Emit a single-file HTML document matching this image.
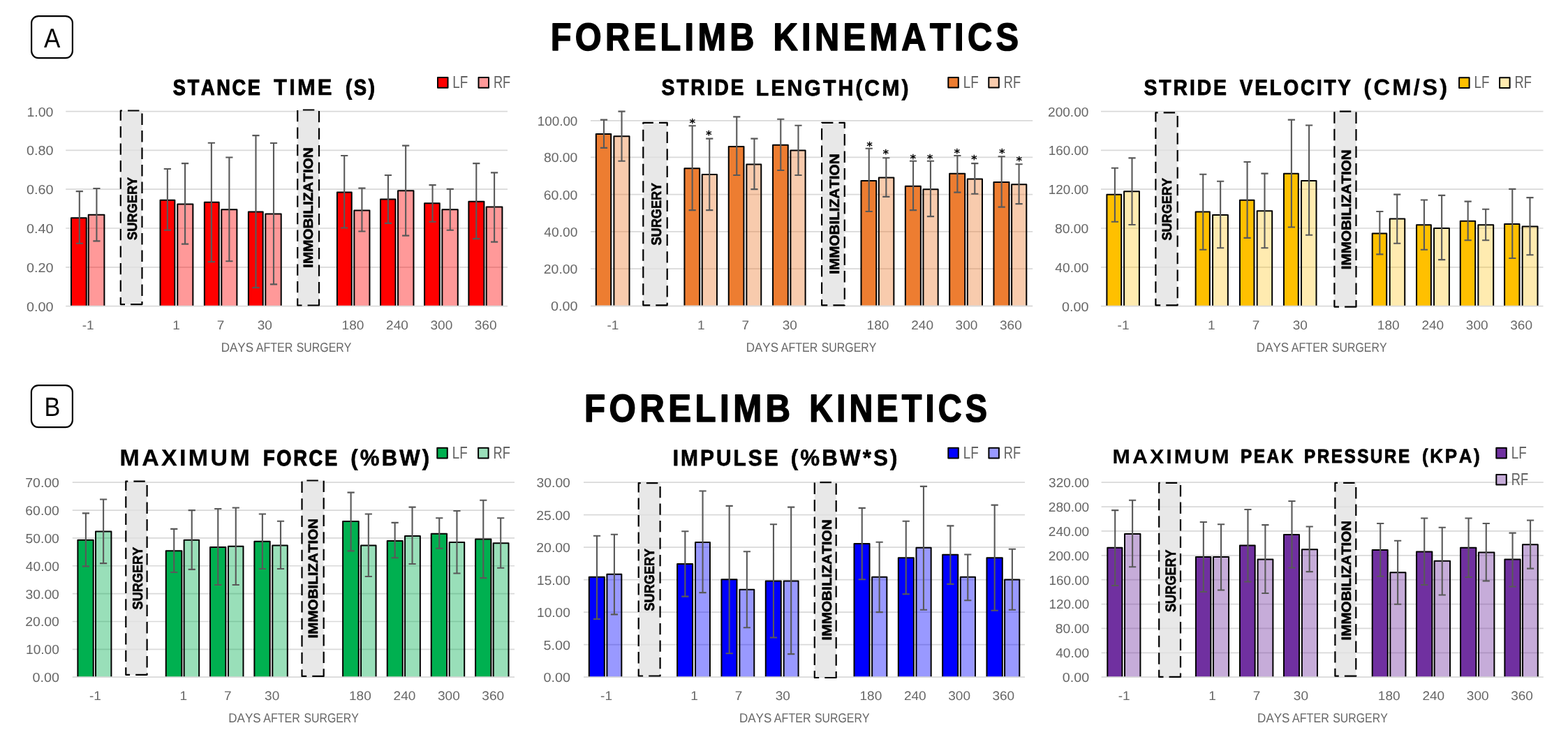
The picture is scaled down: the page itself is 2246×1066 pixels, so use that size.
<!DOCTYPE html>
<html lang="en"><head><meta charset="utf-8"><title>Forelimb kinematics and kinetics</title>
<style>
html,body{margin:0;padding:0;background:#fff}
body{width:2246px;height:1066px;overflow:hidden}
svg{display:block;font-family:"Liberation Sans",sans-serif}
text{white-space:pre;font-kerning:none;text-rendering:geometricPrecision}
</style></head><body>
<svg width="2246" height="1066" viewBox="0 0 2246 1066">
<rect width="2246" height="1066" fill="#fff"/>
<rect x="45.1" y="23.1" width="58.8" height="60" rx="10" fill="#fff" stroke="#000" stroke-width="2.2"/>
<text transform="translate(62.93 67.5) scale(0.9015 1)" font-size="38.81">A</text>
<rect x="44.9" y="552.1" width="59" height="60" rx="10" fill="#fff" stroke="#000" stroke-width="2.2"/>
<text transform="translate(63.59 596) scale(0.8980 1)" font-size="38.08">B</text>
<text transform="translate(788.75 72.3) scale(0.8793 1)" font-size="55.38" font-weight="bold" letter-spacing="6.09" stroke="#000" stroke-width="1.6" stroke-linejoin="round">FORELIMB</text>
<text transform="translate(1107.44 72.3) scale(0.8805 1)" font-size="55.38" font-weight="bold" letter-spacing="6.09" stroke="#000" stroke-width="1.6" stroke-linejoin="round">KINEMATICS</text>
<text transform="translate(836.91 604.3) scale(0.8900 1)" font-size="55.38" font-weight="bold" letter-spacing="6.09" stroke="#000" stroke-width="1.6" stroke-linejoin="round">FORELIMB</text>
<text transform="translate(1159.24 604.3) scale(0.8459 1)" font-size="55.38" font-weight="bold" letter-spacing="6.09" stroke="#000" stroke-width="1.6" stroke-linejoin="round">KINETICS</text>
<text transform="translate(247.82 135.81) scale(0.8594 1)" font-size="31.57" font-weight="bold" letter-spacing="3.16" stroke="#000" stroke-width="1.18" stroke-linejoin="round">STANCE</text>
<text transform="translate(392.04 136.1) scale(0.9591 1)" font-size="32.42" font-weight="bold" letter-spacing="3.24" stroke="#000" stroke-width="0.6" stroke-linejoin="round">TIME</text>
<text transform="translate(494.89 135.87) scale(0.8654 1)" font-size="31.75" font-weight="bold" letter-spacing="3.18" stroke="#000" stroke-width="1.05" stroke-linejoin="round">(S)</text>
<text transform="translate(947.42 136.41) scale(0.8894 1)" font-size="31.85" font-weight="bold" letter-spacing="3.19" stroke="#000" stroke-width="0.99" stroke-linejoin="round">STRIDE</text>
<text transform="translate(1082.82 136.54) scale(0.9384 1)" font-size="32.23" font-weight="bold" letter-spacing="3.22" stroke="#000" stroke-width="0.72" stroke-linejoin="round">LENGTH(CM)</text>
<text transform="translate(1638.58 135.76) scale(0.9045 1)" font-size="31.42" font-weight="bold" letter-spacing="3.14" stroke="#000" stroke-width="0.88" stroke-linejoin="round">STRIDE</text>
<text transform="translate(1775.74 135.72) scale(0.8921 1)" font-size="31.3" font-weight="bold" letter-spacing="3.13" stroke="#000" stroke-width="0.96" stroke-linejoin="round">VELOCITY</text>
<text transform="translate(1953.24 136.03) scale(1.0155 1)" font-size="32.21" font-weight="bold" letter-spacing="3.22" stroke="#000" stroke-width="0.34" stroke-linejoin="round">(CM/S)</text>
<text transform="translate(171.49 667.45) scale(1.0279 1)" font-size="33" font-weight="bold" letter-spacing="3.3" stroke="#000" stroke-width="0.3" stroke-linejoin="round">MAXIMUM</text>
<text transform="translate(376.88 667.01) scale(0.8597 1)" font-size="31.73" font-weight="bold" letter-spacing="3.17" stroke="#000" stroke-width="1.17" stroke-linejoin="round">FORCE</text>
<text transform="translate(502.34 667.29) scale(0.9583 1)" font-size="32.54" font-weight="bold" letter-spacing="3.25" stroke="#000" stroke-width="0.61" stroke-linejoin="round">(%BW)</text>
<text transform="translate(963.76 667.21) scale(0.9271 1)" font-size="32.29" font-weight="bold" letter-spacing="3.23" stroke="#000" stroke-width="0.78" stroke-linejoin="round">IMPULSE</text>
<text transform="translate(1132.73 667.3) scale(0.9624 1)" font-size="32.56" font-weight="bold" letter-spacing="3.26" stroke="#000" stroke-width="0.6" stroke-linejoin="round">(%BW*S)</text>
<text transform="translate(1593.57 663.5) scale(1.0583 1)" font-size="28.78" font-weight="bold" letter-spacing="2.88" stroke="#000" stroke-width="0.2" stroke-linejoin="round">MAXIMUM</text>
<text transform="translate(1776.95 663.16) scale(0.8826 1)" font-size="27.79" font-weight="bold" letter-spacing="2.78" stroke="#000" stroke-width="0.88" stroke-linejoin="round">PEAK</text>
<text transform="translate(1868.08 663.14) scale(0.8788 1)" font-size="27.72" font-weight="bold" letter-spacing="2.77" stroke="#000" stroke-width="0.93" stroke-linejoin="round">PRESSURE</text>
<text transform="translate(2037.01 663.27) scale(0.9271 1)" font-size="28.1" font-weight="bold" letter-spacing="2.81" stroke="#000" stroke-width="0.67" stroke-linejoin="round">(KPA)</text>
<g>
<path d="M94.2 159.6H727M94.2 215.4H727M94.2 271.2H727M94.2 327H727M94.2 382.8H727" stroke="#d9d9d9" stroke-width="1.7" fill="none"/>
<text transform="translate(38.41 166.5) scale(1.0398 1)" font-size="18.75" fill="#676767">1.00</text>
<text transform="translate(37.93 222.3) scale(1.0534 1)" font-size="18.75" fill="#676767">0.80</text>
<text transform="translate(37.93 278.1) scale(1.0534 1)" font-size="18.75" fill="#676767">0.60</text>
<text transform="translate(37.93 333.9) scale(1.0534 1)" font-size="18.75" fill="#676767">0.40</text>
<text transform="translate(37.93 389.7) scale(1.0534 1)" font-size="18.75" fill="#676767">0.20</text>
<text transform="translate(37.93 445.5) scale(1.0534 1)" font-size="18.75" fill="#676767">0.00</text>
<rect x="102.01" y="312.23" width="21.71" height="128.37" fill="#ff0000" stroke="#000" stroke-width="2.0" stroke-linejoin="round"/>
<rect x="126.71" y="307.72" width="22.71" height="132.88" fill="#ff0000" fill-opacity="0.4" stroke="#000" stroke-width="2.0" stroke-linejoin="round"/>
<rect x="229.54" y="286.67" width="20.81" height="153.93" fill="#ff0000" stroke="#000" stroke-width="2.0" stroke-linejoin="round"/>
<rect x="254.25" y="292.39" width="22.11" height="148.21" fill="#ff0000" fill-opacity="0.4" stroke="#000" stroke-width="2.0" stroke-linejoin="round"/>
<rect x="292.86" y="289.68" width="20.81" height="150.92" fill="#ff0000" stroke="#000" stroke-width="2.0" stroke-linejoin="round"/>
<rect x="317.27" y="300.2" width="22.11" height="140.4" fill="#ff0000" fill-opacity="0.4" stroke="#000" stroke-width="2.0" stroke-linejoin="round"/>
<rect x="355.88" y="303.51" width="20.81" height="137.09" fill="#ff0000" stroke="#000" stroke-width="2.0" stroke-linejoin="round"/>
<rect x="380.29" y="306.52" width="22.41" height="134.08" fill="#ff0000" fill-opacity="0.4" stroke="#000" stroke-width="2.0" stroke-linejoin="round"/>
<rect x="482.92" y="275.55" width="20.81" height="165.05" fill="#ff0000" stroke="#000" stroke-width="2.0" stroke-linejoin="round"/>
<rect x="507.33" y="301.41" width="22.11" height="139.19" fill="#ff0000" fill-opacity="0.4" stroke="#000" stroke-width="2.0" stroke-linejoin="round"/>
<rect x="545.04" y="285.47" width="21.41" height="155.13" fill="#ff0000" stroke="#000" stroke-width="2.0" stroke-linejoin="round"/>
<rect x="570.05" y="273.14" width="22.41" height="167.46" fill="#ff0000" fill-opacity="0.4" stroke="#000" stroke-width="2.0" stroke-linejoin="round"/>
<rect x="608.06" y="291.18" width="21.71" height="149.42" fill="#ff0000" stroke="#000" stroke-width="2.0" stroke-linejoin="round"/>
<rect x="633.37" y="300.2" width="22.41" height="140.4" fill="#ff0000" fill-opacity="0.4" stroke="#000" stroke-width="2.0" stroke-linejoin="round"/>
<rect x="671.38" y="288.78" width="22.01" height="151.82" fill="#ff0000" stroke="#000" stroke-width="2.0" stroke-linejoin="round"/>
<rect x="696.69" y="296.59" width="22.71" height="144.01" fill="#ff0000" fill-opacity="0.4" stroke="#000" stroke-width="2.0" stroke-linejoin="round"/>
<rect x="94.2" y="438.6" width="632.8" height="4" fill="#fff"/>
<path d="M94.2 438.6H727" stroke="#d9d9d9" stroke-width="1.8" fill="none"/>
<path d="M113.81 274.15V348.71M108.71 274.15H118.91M108.71 348.71H118.91M138.42 269.94V345.4M133.32 269.94H143.52M133.32 345.4H143.52M239.85 241.98V329.77M234.75 241.98H244.95M234.75 329.77H244.95M265.05 234.16V349.61M259.95 234.16H270.15M259.95 349.61H270.15M302.87 204.7V375.16M297.77 204.7H307.97M297.77 375.16H307.97M328.37 225.44V374.26M323.27 225.44H333.47M323.27 374.26H333.47M366.48 194.17V412.14M361.38 194.17H371.58M361.38 412.14H371.58M391.99 205V407.33M386.89 205H397.09M386.89 407.33H397.09M493.23 223.04V326.46M488.13 223.04H498.33M488.13 326.46H498.33M518.43 269.64V331.57M513.33 269.64H523.53M513.33 331.57H523.53M555.95 251V319.85M550.85 251H561.05M550.85 319.85H561.05M581.15 208.61V337.58M576.05 208.61H586.25M576.05 337.58H586.25M619.56 265.13V317.74M614.46 265.13H624.66M614.46 317.74H624.66M644.77 270.84V329.77M639.67 270.84H649.87M639.67 329.77H649.87M682.28 234.16V342.09M677.18 234.16H687.38M677.18 342.09H687.38M708.09 247.39V346.6M702.99 247.39H713.19M702.99 346.6H713.19" stroke="#595959" stroke-width="2.1" fill="none"/>
<rect x="172.8" y="158.5" width="30.7" height="277.6" fill="#e0e0e0" fill-opacity="0.75"/>
<path d="M203.5 436.1H172.8V158.5H203.5Z" fill="none" stroke="#000" stroke-width="2.2" stroke-linejoin="round" stroke-dasharray="16.4 8.1"/>
<rect x="426.2" y="157.5" width="30.8" height="280" fill="#e0e0e0" fill-opacity="0.75"/>
<path d="M457 437.5H426.2V157.5H457Z" fill="none" stroke="#000" stroke-width="2.2" stroke-linejoin="round" stroke-dasharray="16.4 8.1"/>
<text transform="translate(195.93 344) rotate(-90) scale(0.9511 1)" font-size="19.19" font-weight="bold" stroke="#000" stroke-width="0.6" stroke-linejoin="round">SURGERY</text>
<text transform="translate(448.41 383.83) rotate(-90) scale(1.0792 1)" font-size="19.19" font-weight="bold" stroke="#000" stroke-width="0.6" stroke-linejoin="round">IMMOBILIZATION</text>
<text transform="translate(117.7 472.2) scale(1.0500 1)" font-size="18.17" fill="#676767">-1</text>
<text transform="translate(247.13 472.2) scale(1.0500 1)" font-size="18.17" fill="#676767">1</text>
<text transform="translate(310.67 472.2) scale(1.0500 1)" font-size="18.17" fill="#676767">7</text>
<text transform="translate(368.66 472.2) scale(1.0500 1)" font-size="18.17" fill="#676767">30</text>
<text transform="translate(489.55 472.2) scale(1.0500 1)" font-size="18.17" fill="#676767">180</text>
<text transform="translate(553.08 472.2) scale(1.0500 1)" font-size="18.17" fill="#676767">240</text>
<text transform="translate(616.47 472.2) scale(1.0500 1)" font-size="18.17" fill="#676767">300</text>
<text transform="translate(679.75 472.2) scale(1.0500 1)" font-size="18.17" fill="#676767">360</text>
<text transform="translate(316.7 504.1) scale(0.9119 1)" font-size="18.68" fill="#676767">DAYS</text>
<text transform="translate(366.67 504.1) scale(0.8604 1)" font-size="18.68" fill="#676767">AFTER</text>
<text transform="translate(424.78 504.1) scale(0.8506 1)" font-size="18.68" fill="#676767">SURGERY</text>
</g>
<g>
<path d="M846 172.8H1479.2M846 225.4H1479.2M846 278.65H1479.2M846 331.9H1479.2M846 385.15H1479.2" stroke="#d9d9d9" stroke-width="1.7" fill="none"/>
<text transform="translate(769.77 179.7) scale(1.0038 1)" font-size="18.75" fill="#676767">100.00</text>
<text transform="translate(778.96 232.3) scale(1.0314 1)" font-size="18.75" fill="#676767">80.00</text>
<text transform="translate(778.81 285.55) scale(1.0346 1)" font-size="18.75" fill="#676767">60.00</text>
<text transform="translate(779.36 338.8) scale(1.0228 1)" font-size="18.75" fill="#676767">40.00</text>
<text transform="translate(778.82 392.05) scale(1.0343 1)" font-size="18.75" fill="#676767">20.00</text>
<text transform="translate(788.93 445.3) scale(1.0534 1)" font-size="18.75" fill="#676767">0.00</text>
<rect x="853.81" y="191.94" width="21.41" height="248.56" fill="#ed7d31" stroke="#000" stroke-width="2.0" stroke-linejoin="round"/>
<rect x="879.41" y="195.24" width="22.11" height="245.26" fill="#ed7d31" fill-opacity="0.4" stroke="#000" stroke-width="2.0" stroke-linejoin="round"/>
<rect x="980.44" y="241.23" width="21.71" height="199.27" fill="#ed7d31" stroke="#000" stroke-width="2.0" stroke-linejoin="round"/>
<rect x="1005.75" y="249.94" width="21.21" height="190.56" fill="#ed7d31" fill-opacity="0.4" stroke="#000" stroke-width="2.0" stroke-linejoin="round"/>
<rect x="1043.76" y="209.97" width="21.71" height="230.53" fill="#ed7d31" stroke="#000" stroke-width="2.0" stroke-linejoin="round"/>
<rect x="1069.37" y="235.52" width="20.91" height="204.98" fill="#ed7d31" fill-opacity="0.4" stroke="#000" stroke-width="2.0" stroke-linejoin="round"/>
<rect x="1107.08" y="207.87" width="21.71" height="232.63" fill="#ed7d31" stroke="#000" stroke-width="2.0" stroke-linejoin="round"/>
<rect x="1132.39" y="215.38" width="21.21" height="225.12" fill="#ed7d31" fill-opacity="0.4" stroke="#000" stroke-width="2.0" stroke-linejoin="round"/>
<rect x="1233.52" y="258.96" width="21.71" height="181.54" fill="#ed7d31" stroke="#000" stroke-width="2.0" stroke-linejoin="round"/>
<rect x="1258.83" y="254.45" width="21.51" height="186.05" fill="#ed7d31" fill-opacity="0.4" stroke="#000" stroke-width="2.0" stroke-linejoin="round"/>
<rect x="1296.84" y="266.78" width="22.01" height="173.72" fill="#ed7d31" stroke="#000" stroke-width="2.0" stroke-linejoin="round"/>
<rect x="1322.45" y="271.29" width="21.21" height="169.21" fill="#ed7d31" fill-opacity="0.4" stroke="#000" stroke-width="2.0" stroke-linejoin="round"/>
<rect x="1360.16" y="248.74" width="22.01" height="191.76" fill="#ed7d31" stroke="#000" stroke-width="2.0" stroke-linejoin="round"/>
<rect x="1385.77" y="256.56" width="21.21" height="183.94" fill="#ed7d31" fill-opacity="0.4" stroke="#000" stroke-width="2.0" stroke-linejoin="round"/>
<rect x="1423.48" y="261.07" width="22.01" height="179.43" fill="#ed7d31" stroke="#000" stroke-width="2.0" stroke-linejoin="round"/>
<rect x="1449.09" y="264.37" width="21.21" height="176.13" fill="#ed7d31" fill-opacity="0.4" stroke="#000" stroke-width="2.0" stroke-linejoin="round"/>
<rect x="846" y="438.5" width="633.2" height="4" fill="#fff"/>
<path d="M846 438.5H1479.2" stroke="#d9d9d9" stroke-width="1.8" fill="none"/>
<path d="M865.01 171.6V211.87M859.91 171.6H870.11M859.91 211.87H870.11M890.52 159.58V230.81M885.42 159.58H895.62M885.42 230.81H895.62M991.65 180.31V301.14M986.55 180.31H996.75M986.55 301.14H996.75M1016.25 198.65V301.14M1011.15 198.65H1021.35M1011.15 301.14H1021.35M1055.27 167.39V250.95M1050.17 167.39H1060.37M1050.17 250.95H1060.37M1080.47 198.65V271.09M1075.37 198.65H1085.57M1075.37 271.09H1085.57M1118.28 170.7V244.03M1113.18 170.7H1123.38M1113.18 244.03H1123.38M1143.49 179.71V250.95M1138.39 179.71H1148.59M1138.39 250.95H1148.59M1244.73 212.78V302.95M1239.63 212.78H1249.83M1239.63 302.95H1249.83M1269.34 226.3V281.91M1264.24 226.3H1274.44M1264.24 281.91H1274.44M1308.05 230.81V301.14M1302.95 230.81H1313.15M1302.95 301.14H1313.15M1332.95 230.81V310.16M1327.85 230.81H1338.05M1327.85 310.16H1338.05M1371.37 222.99V275.59M1366.27 222.99H1376.47M1366.27 275.59H1376.47M1396.27 234.12V277.7M1391.17 234.12H1401.37M1391.17 277.7H1401.37M1434.68 224.2V296.63M1429.58 224.2H1439.78M1429.58 296.63H1439.78M1459.59 235.32V292.12M1454.49 235.32H1464.69M1454.49 292.12H1464.69" stroke="#595959" stroke-width="2.1" fill="none"/>
<rect x="921.3" y="175.9" width="34.4" height="261.4" fill="#e0e0e0" fill-opacity="0.75"/>
<path d="M955.7 437.3H921.3V175.9H955.7Z" fill="none" stroke="#000" stroke-width="2.2" stroke-linejoin="round" stroke-dasharray="16.4 8.1"/>
<rect x="1177.1" y="175.9" width="32.7" height="261.4" fill="#e0e0e0" fill-opacity="0.75"/>
<path d="M1209.8 437.3H1177.1V175.9H1209.8Z" fill="none" stroke="#000" stroke-width="2.2" stroke-linejoin="round" stroke-dasharray="16.4 8.1"/>
<text transform="translate(946.53 351.51) rotate(-90) scale(0.9040 1)" font-size="20.07" font-weight="bold" stroke="#000" stroke-width="0.6" stroke-linejoin="round">SURGERY</text>
<text transform="translate(1202.32 392.84) rotate(-90) scale(1.0553 1)" font-size="19.63" font-weight="bold" stroke="#000" stroke-width="0.6" stroke-linejoin="round">IMMOBILIZATION</text>
<text x="991.9" y="182.06" font-size="16.5" font-weight="bold" font-family="DejaVu Sans,Liberation Sans,sans-serif" text-anchor="middle">*</text>
<text x="1015.4" y="198.86" font-size="16.5" font-weight="bold" font-family="DejaVu Sans,Liberation Sans,sans-serif" text-anchor="middle">*</text>
<text x="1245.5" y="215.26" font-size="16.5" font-weight="bold" font-family="DejaVu Sans,Liberation Sans,sans-serif" text-anchor="middle">*</text>
<text x="1268.9" y="226.26" font-size="16.5" font-weight="bold" font-family="DejaVu Sans,Liberation Sans,sans-serif" text-anchor="middle">*</text>
<text x="1307.7" y="232.86" font-size="16.5" font-weight="bold" font-family="DejaVu Sans,Liberation Sans,sans-serif" text-anchor="middle">*</text>
<text x="1332" y="232.86" font-size="16.5" font-weight="bold" font-family="DejaVu Sans,Liberation Sans,sans-serif" text-anchor="middle">*</text>
<text x="1370.8" y="225.06" font-size="16.5" font-weight="bold" font-family="DejaVu Sans,Liberation Sans,sans-serif" text-anchor="middle">*</text>
<text x="1395.3" y="234.06" font-size="16.5" font-weight="bold" font-family="DejaVu Sans,Liberation Sans,sans-serif" text-anchor="middle">*</text>
<text x="1435.3" y="225.26" font-size="16.5" font-weight="bold" font-family="DejaVu Sans,Liberation Sans,sans-serif" text-anchor="middle">*</text>
<text x="1459.7" y="236.06" font-size="16.5" font-weight="bold" font-family="DejaVu Sans,Liberation Sans,sans-serif" text-anchor="middle">*</text>
<text transform="translate(869.52 472.1) scale(1.0500 1)" font-size="18.17" fill="#676767">-1</text>
<text transform="translate(999.03 472.1) scale(1.0500 1)" font-size="18.17" fill="#676767">1</text>
<text transform="translate(1062.61 472.1) scale(1.0500 1)" font-size="18.17" fill="#676767">7</text>
<text transform="translate(1120.64 472.1) scale(1.0500 1)" font-size="18.17" fill="#676767">30</text>
<text transform="translate(1241.61 472.1) scale(1.0500 1)" font-size="18.17" fill="#676767">180</text>
<text transform="translate(1305.18 472.1) scale(1.0500 1)" font-size="18.17" fill="#676767">240</text>
<text transform="translate(1368.61 472.1) scale(1.0500 1)" font-size="18.17" fill="#676767">300</text>
<text transform="translate(1431.93 472.1) scale(1.0500 1)" font-size="18.17" fill="#676767">360</text>
<text transform="translate(1068.7 504) scale(0.9119 1)" font-size="18.68" fill="#676767">DAYS</text>
<text transform="translate(1118.67 504) scale(0.8604 1)" font-size="18.68" fill="#676767">AFTER</text>
<text transform="translate(1176.78 504) scale(0.8506 1)" font-size="18.68" fill="#676767">SURGERY</text>
</g>
<g>
<path d="M1577 159.6H2210.5M1577 215.4H2210.5M1577 271.2H2210.5M1577 327H2210.5M1577 382.8H2210.5" stroke="#d9d9d9" stroke-width="1.7" fill="none"/>
<text transform="translate(1501.04 166.5) scale(1.0166 1)" font-size="18.75" fill="#676767">200.00</text>
<text transform="translate(1501.77 222.3) scale(1.0038 1)" font-size="18.75" fill="#676767">160.00</text>
<text transform="translate(1501.77 278.1) scale(1.0038 1)" font-size="18.75" fill="#676767">120.00</text>
<text transform="translate(1510.96 333.9) scale(1.0314 1)" font-size="18.75" fill="#676767">80.00</text>
<text transform="translate(1511.36 389.7) scale(1.0228 1)" font-size="18.75" fill="#676767">40.00</text>
<text transform="translate(1520.93 445.5) scale(1.0534 1)" font-size="18.75" fill="#676767">0.00</text>
<rect x="1585.4" y="278.86" width="20.81" height="161.74" fill="#ffc000" stroke="#000" stroke-width="2.0" stroke-linejoin="round"/>
<rect x="1610.11" y="274.35" width="21.81" height="166.25" fill="#ffc000" fill-opacity="0.31" stroke="#000" stroke-width="2.0" stroke-linejoin="round"/>
<rect x="1712.64" y="303.51" width="20.21" height="137.09" fill="#ffc000" stroke="#000" stroke-width="2.0" stroke-linejoin="round"/>
<rect x="1737.05" y="308.02" width="21.81" height="132.58" fill="#ffc000" fill-opacity="0.31" stroke="#000" stroke-width="2.0" stroke-linejoin="round"/>
<rect x="1775.96" y="286.67" width="20.51" height="153.93" fill="#ffc000" stroke="#000" stroke-width="2.0" stroke-linejoin="round"/>
<rect x="1800.67" y="302.31" width="21.51" height="138.29" fill="#ffc000" fill-opacity="0.31" stroke="#000" stroke-width="2.0" stroke-linejoin="round"/>
<rect x="1838.98" y="248.79" width="20.81" height="191.81" fill="#ffc000" stroke="#000" stroke-width="2.0" stroke-linejoin="round"/>
<rect x="1863.99" y="259.01" width="21.51" height="181.59" fill="#ffc000" fill-opacity="0.31" stroke="#000" stroke-width="2.0" stroke-linejoin="round"/>
<rect x="1965.72" y="334.48" width="20.51" height="106.12" fill="#ffc000" stroke="#000" stroke-width="2.0" stroke-linejoin="round"/>
<rect x="1990.73" y="313.43" width="21.51" height="127.17" fill="#ffc000" fill-opacity="0.31" stroke="#000" stroke-width="2.0" stroke-linejoin="round"/>
<rect x="2029.04" y="322.15" width="20.81" height="118.45" fill="#ffc000" stroke="#000" stroke-width="2.0" stroke-linejoin="round"/>
<rect x="2054.05" y="326.96" width="21.81" height="113.64" fill="#ffc000" fill-opacity="0.31" stroke="#000" stroke-width="2.0" stroke-linejoin="round"/>
<rect x="2091.76" y="316.74" width="21.41" height="123.86" fill="#ffc000" stroke="#000" stroke-width="2.0" stroke-linejoin="round"/>
<rect x="2117.37" y="322.15" width="21.81" height="118.45" fill="#ffc000" fill-opacity="0.31" stroke="#000" stroke-width="2.0" stroke-linejoin="round"/>
<rect x="2155.08" y="320.95" width="21.41" height="119.65" fill="#ffc000" stroke="#000" stroke-width="2.0" stroke-linejoin="round"/>
<rect x="2180.69" y="324.55" width="21.81" height="116.05" fill="#ffc000" fill-opacity="0.31" stroke="#000" stroke-width="2.0" stroke-linejoin="round"/>
<rect x="1577" y="438.6" width="633.5" height="4" fill="#fff"/>
<path d="M1577 438.6H2210.5" stroke="#d9d9d9" stroke-width="1.8" fill="none"/>
<path d="M1596.91 240.78V317.74M1591.81 240.78H1602.01M1591.81 317.74H1602.01M1621.52 226.34V321.95M1616.42 226.34H1626.62M1616.42 321.95H1626.62M1723.25 249.79V357.73M1718.15 249.79H1728.35M1718.15 357.73H1728.35M1748.15 259.72V355.32M1743.05 259.72H1753.25M1743.05 355.32H1753.25M1786.56 232.06V340.89M1781.46 232.06H1791.66M1781.46 340.89H1791.66M1811.47 248.59V355.32M1806.37 248.59H1816.57M1806.37 355.32H1816.57M1849.88 171.63V325.56M1844.78 171.63H1854.98M1844.78 325.56H1854.98M1875.09 179.44V336.68M1869.99 179.44H1880.19M1869.99 336.68H1880.19M1976.33 303.01V364.34M1971.23 303.01H1981.43M1971.23 364.34H1981.43M2001.23 278.66V348.71M1996.13 278.66H2006.33M1996.13 348.71H2006.33M2039.94 286.47V357.73M2034.84 286.47H2045.04M2034.84 357.73H2045.04M2065.15 279.86V372.16M2060.05 279.86H2070.25M2060.05 372.16H2070.25M2102.66 288.58V344.2M2097.56 288.58H2107.76M2097.56 344.2H2107.76M2128.17 299.7V344.2M2123.07 299.7H2133.27M2123.07 344.2H2133.27M2166.28 270.84V370.05M2161.18 270.84H2171.38M2161.18 370.05H2171.38M2191.49 283.17V365.24M2186.39 283.17H2196.59M2186.39 365.24H2196.59" stroke="#595959" stroke-width="2.1" fill="none"/>
<rect x="1655.4" y="161.4" width="31.3" height="275.9" fill="#e0e0e0" fill-opacity="0.75"/>
<path d="M1686.7 437.3H1655.4V161.4H1686.7Z" fill="none" stroke="#000" stroke-width="2.2" stroke-linejoin="round" stroke-dasharray="16.4 8.1"/>
<rect x="1911.4" y="159.7" width="31.1" height="279.9" fill="#e0e0e0" fill-opacity="0.75"/>
<path d="M1942.5 439.6H1911.4V159.7H1942.5Z" fill="none" stroke="#000" stroke-width="2.2" stroke-linejoin="round" stroke-dasharray="16.4 8.1"/>
<text transform="translate(1678.43 344.6) rotate(-90) scale(0.9448 1)" font-size="19.19" font-weight="bold" stroke="#000" stroke-width="0.6" stroke-linejoin="round">SURGERY</text>
<text transform="translate(1935.41 386.23) rotate(-90) scale(1.0754 1)" font-size="19.19" font-weight="bold" stroke="#000" stroke-width="0.6" stroke-linejoin="round">IMMOBILIZATION</text>
<text transform="translate(1600.54 472.2) scale(1.0500 1)" font-size="18.17" fill="#676767">-1</text>
<text transform="translate(1730.11 472.2) scale(1.0500 1)" font-size="18.17" fill="#676767">1</text>
<text transform="translate(1793.71 472.2) scale(1.0500 1)" font-size="18.17" fill="#676767">7</text>
<text transform="translate(1851.77 472.2) scale(1.0500 1)" font-size="18.17" fill="#676767">30</text>
<text transform="translate(1972.81 472.2) scale(1.0500 1)" font-size="18.17" fill="#676767">180</text>
<text transform="translate(2036.4 472.2) scale(1.0500 1)" font-size="18.17" fill="#676767">240</text>
<text transform="translate(2099.87 472.2) scale(1.0500 1)" font-size="18.17" fill="#676767">300</text>
<text transform="translate(2163.22 472.2) scale(1.0500 1)" font-size="18.17" fill="#676767">360</text>
<text transform="translate(1799.85 504.1) scale(0.9119 1)" font-size="18.68" fill="#676767">DAYS</text>
<text transform="translate(1849.82 504.1) scale(0.8604 1)" font-size="18.68" fill="#676767">AFTER</text>
<text transform="translate(1907.93 504.1) scale(0.8506 1)" font-size="18.68" fill="#676767">SURGERY</text>
</g>
<g>
<path d="M103.8 691.2H737M103.8 731.06H737M103.8 770.91H737M103.8 810.77H737M103.8 850.63H737M103.8 890.49H737M103.8 930.34H737" stroke="#d9d9d9" stroke-width="1.7" fill="none"/>
<text transform="translate(36.31 698.1) scale(1.0348 1)" font-size="18.75" fill="#676767">70.00</text>
<text transform="translate(36.31 737.96) scale(1.0346 1)" font-size="18.75" fill="#676767">60.00</text>
<text transform="translate(36.53 777.81) scale(1.0300 1)" font-size="18.75" fill="#676767">50.00</text>
<text transform="translate(36.86 817.67) scale(1.0228 1)" font-size="18.75" fill="#676767">40.00</text>
<text transform="translate(36.57 857.53) scale(1.0291 1)" font-size="18.75" fill="#676767">30.00</text>
<text transform="translate(36.32 897.39) scale(1.0343 1)" font-size="18.75" fill="#676767">20.00</text>
<text transform="translate(37.04 937.24) scale(1.0187 1)" font-size="18.75" fill="#676767">10.00</text>
<text transform="translate(46.43 977.1) scale(1.0534 1)" font-size="18.75" fill="#676767">0.00</text>
<rect x="111.41" y="773.69" width="22.31" height="198.51" fill="#00b050" stroke="#000" stroke-width="2.0" stroke-linejoin="round"/>
<rect x="137.01" y="761.38" width="22.41" height="210.82" fill="#00b050" fill-opacity="0.4" stroke="#000" stroke-width="2.0" stroke-linejoin="round"/>
<rect x="237.74" y="789.31" width="22.61" height="182.89" fill="#00b050" stroke="#000" stroke-width="2.0" stroke-linejoin="round"/>
<rect x="263.65" y="773.69" width="21.51" height="198.51" fill="#00b050" fill-opacity="0.4" stroke="#000" stroke-width="2.0" stroke-linejoin="round"/>
<rect x="301.06" y="783.9" width="22.31" height="188.3" fill="#00b050" stroke="#000" stroke-width="2.0" stroke-linejoin="round"/>
<rect x="326.97" y="782.7" width="21.51" height="189.5" fill="#00b050" fill-opacity="0.4" stroke="#000" stroke-width="2.0" stroke-linejoin="round"/>
<rect x="364.38" y="775.79" width="22.31" height="196.41" fill="#00b050" stroke="#000" stroke-width="2.0" stroke-linejoin="round"/>
<rect x="390.29" y="781.5" width="21.51" height="190.7" fill="#00b050" fill-opacity="0.4" stroke="#000" stroke-width="2.0" stroke-linejoin="round"/>
<rect x="491.12" y="746.96" width="22.61" height="225.24" fill="#00b050" stroke="#000" stroke-width="2.0" stroke-linejoin="round"/>
<rect x="517.03" y="781.5" width="21.51" height="190.7" fill="#00b050" fill-opacity="0.4" stroke="#000" stroke-width="2.0" stroke-linejoin="round"/>
<rect x="554.74" y="774.89" width="22.01" height="197.31" fill="#00b050" stroke="#000" stroke-width="2.0" stroke-linejoin="round"/>
<rect x="580.05" y="767.98" width="21.81" height="204.22" fill="#00b050" fill-opacity="0.4" stroke="#000" stroke-width="2.0" stroke-linejoin="round"/>
<rect x="617.76" y="764.68" width="22.31" height="207.52" fill="#00b050" stroke="#000" stroke-width="2.0" stroke-linejoin="round"/>
<rect x="643.67" y="776.99" width="21.51" height="195.21" fill="#00b050" fill-opacity="0.4" stroke="#000" stroke-width="2.0" stroke-linejoin="round"/>
<rect x="681.08" y="772.49" width="22.31" height="199.71" fill="#00b050" stroke="#000" stroke-width="2.0" stroke-linejoin="round"/>
<rect x="706.69" y="778.19" width="21.81" height="194.01" fill="#00b050" fill-opacity="0.4" stroke="#000" stroke-width="2.0" stroke-linejoin="round"/>
<rect x="103.8" y="970.2" width="633.2" height="4" fill="#fff"/>
<path d="M103.8 970.2H737" stroke="#d9d9d9" stroke-width="1.8" fill="none"/>
<path d="M122.91 735.35V811.33M117.81 735.35H128.01M117.81 811.33H128.01M148.12 715.53V807.12M143.02 715.53H153.22M143.02 807.12H153.22M249.25 757.87V820.04M244.15 757.87H254.35M244.15 820.04H254.35M274.75 731.14V815.83M269.65 731.14H279.85M269.65 815.83H279.85M312.27 729.04V838.06M307.17 729.04H317.37M307.17 838.06H317.37M337.77 727.54V838.06M332.67 727.54H342.87M332.67 838.06H342.87M375.88 736.55V814.93M370.78 736.55H380.98M370.78 814.93H380.98M401.99 746.76V814.93M396.89 746.76H407.09M396.89 814.93H407.09M502.63 705.62V789.41M497.53 705.62H507.73M497.53 789.41H507.73M527.83 736.55V826.05M522.73 736.55H532.93M522.73 826.05H532.93M565.65 748.86V799.32M560.55 748.86H570.75M560.55 799.32H570.75M590.55 726.64V808.03M585.45 726.64H595.65M585.45 808.03H595.65M629.26 742.26V785.8M624.16 742.26H634.36M624.16 785.8H634.36M654.47 732.04V821.54M649.37 732.04H659.57M649.37 821.54H659.57M692.28 716.73V828.15M687.18 716.73H697.38M687.18 828.15H697.38M717.19 742.26V813.73M712.09 742.26H722.29M712.09 813.73H722.29" stroke="#595959" stroke-width="2.1" fill="none"/>
<rect x="180.3" y="689.7" width="30.3" height="277.1" fill="#e0e0e0" fill-opacity="0.75"/>
<path d="M210.6 966.8H180.3V689.7H210.6Z" fill="none" stroke="#000" stroke-width="2.2" stroke-linejoin="round" stroke-dasharray="16.4 8.1"/>
<rect x="432.5" y="688.5" width="31.2" height="280.4" fill="#e0e0e0" fill-opacity="0.75"/>
<path d="M463.7 968.9H432.5V688.5H463.7Z" fill="none" stroke="#000" stroke-width="2.2" stroke-linejoin="round" stroke-dasharray="16.4 8.1"/>
<text transform="translate(203.53 873.41) rotate(-90) scale(0.9040 1)" font-size="20.07" font-weight="bold" stroke="#000" stroke-width="0.6" stroke-linejoin="round">SURGERY</text>
<text transform="translate(455.41 914.43) rotate(-90) scale(1.0735 1)" font-size="19.19" font-weight="bold" stroke="#000" stroke-width="0.6" stroke-linejoin="round">IMMOBILIZATION</text>
<text transform="translate(127.92 1003.2) scale(1.0500 1)" font-size="18.17" fill="#676767">-1</text>
<text transform="translate(257.43 1003.2) scale(1.0500 1)" font-size="18.17" fill="#676767">1</text>
<text transform="translate(321.01 1003.2) scale(1.0500 1)" font-size="18.17" fill="#676767">7</text>
<text transform="translate(379.04 1003.2) scale(1.0500 1)" font-size="18.17" fill="#676767">30</text>
<text transform="translate(500.01 1003.2) scale(1.0500 1)" font-size="18.17" fill="#676767">180</text>
<text transform="translate(563.58 1003.2) scale(1.0500 1)" font-size="18.17" fill="#676767">240</text>
<text transform="translate(627.01 1003.2) scale(1.0500 1)" font-size="18.17" fill="#676767">300</text>
<text transform="translate(690.33 1003.2) scale(1.0500 1)" font-size="18.17" fill="#676767">360</text>
<text transform="translate(327.3 1035) scale(0.9119 1)" font-size="18.68" fill="#676767">DAYS</text>
<text transform="translate(377.27 1035) scale(0.8604 1)" font-size="18.68" fill="#676767">AFTER</text>
<text transform="translate(435.38 1035) scale(0.8506 1)" font-size="18.68" fill="#676767">SURGERY</text>
</g>
<g>
<path d="M836 691.2H1468M836 737.7H1468M836 784.2H1468M836 830.7H1468M836 877.2H1468M836 923.7H1468" stroke="#d9d9d9" stroke-width="1.7" fill="none"/>
<text transform="translate(768.57 698.1) scale(1.0291 1)" font-size="18.75" fill="#676767">30.00</text>
<text transform="translate(768.32 744.6) scale(1.0343 1)" font-size="18.75" fill="#676767">25.00</text>
<text transform="translate(768.32 791.1) scale(1.0343 1)" font-size="18.75" fill="#676767">20.00</text>
<text transform="translate(769.04 837.6) scale(1.0187 1)" font-size="18.75" fill="#676767">15.00</text>
<text transform="translate(769.04 884.1) scale(1.0187 1)" font-size="18.75" fill="#676767">10.00</text>
<text transform="translate(778.41 930.6) scale(1.0540 1)" font-size="18.75" fill="#676767">5.00</text>
<text transform="translate(778.43 977.1) scale(1.0534 1)" font-size="18.75" fill="#676767">0.00</text>
<rect x="843.81" y="826.85" width="22.01" height="145.35" fill="#0000ff" stroke="#000" stroke-width="2.0" stroke-linejoin="round"/>
<rect x="869.41" y="822.64" width="20.91" height="149.56" fill="#0000ff" fill-opacity="0.4" stroke="#000" stroke-width="2.0" stroke-linejoin="round"/>
<rect x="970.14" y="807.93" width="22.01" height="164.27" fill="#0000ff" stroke="#000" stroke-width="2.0" stroke-linejoin="round"/>
<rect x="996.05" y="776.99" width="20.91" height="195.21" fill="#0000ff" fill-opacity="0.4" stroke="#000" stroke-width="2.0" stroke-linejoin="round"/>
<rect x="1033.46" y="830.15" width="22.01" height="142.05" fill="#0000ff" stroke="#000" stroke-width="2.0" stroke-linejoin="round"/>
<rect x="1059.37" y="844.87" width="20.91" height="127.33" fill="#0000ff" fill-opacity="0.4" stroke="#000" stroke-width="2.0" stroke-linejoin="round"/>
<rect x="1096.78" y="832.55" width="22.01" height="139.65" fill="#0000ff" stroke="#000" stroke-width="2.0" stroke-linejoin="round"/>
<rect x="1122.69" y="832.55" width="20.91" height="139.65" fill="#0000ff" fill-opacity="0.4" stroke="#000" stroke-width="2.0" stroke-linejoin="round"/>
<rect x="1223.52" y="779.09" width="22.01" height="193.11" fill="#0000ff" stroke="#000" stroke-width="2.0" stroke-linejoin="round"/>
<rect x="1249.13" y="826.85" width="21.21" height="145.35" fill="#0000ff" fill-opacity="0.4" stroke="#000" stroke-width="2.0" stroke-linejoin="round"/>
<rect x="1286.84" y="799.22" width="22.01" height="172.98" fill="#0000ff" stroke="#000" stroke-width="2.0" stroke-linejoin="round"/>
<rect x="1312.45" y="784.8" width="21.21" height="187.4" fill="#0000ff" fill-opacity="0.4" stroke="#000" stroke-width="2.0" stroke-linejoin="round"/>
<rect x="1350.16" y="794.71" width="22.01" height="177.49" fill="#0000ff" stroke="#000" stroke-width="2.0" stroke-linejoin="round"/>
<rect x="1375.77" y="826.85" width="21.21" height="145.35" fill="#0000ff" fill-opacity="0.4" stroke="#000" stroke-width="2.0" stroke-linejoin="round"/>
<rect x="1413.48" y="799.22" width="22.31" height="172.98" fill="#0000ff" stroke="#000" stroke-width="2.0" stroke-linejoin="round"/>
<rect x="1439.09" y="830.45" width="21.21" height="141.75" fill="#0000ff" fill-opacity="0.4" stroke="#000" stroke-width="2.0" stroke-linejoin="round"/>
<rect x="836" y="970.2" width="632" height="4" fill="#fff"/>
<path d="M836 970.2H1468" stroke="#d9d9d9" stroke-width="1.8" fill="none"/>
<path d="M855.01 767.78V887.01M849.91 767.78H860.11M849.91 887.01H860.11M879.92 765.68V880.4M874.82 765.68H885.02M874.82 880.4H885.02M981.35 761.18V854.58M976.25 761.18H986.45M976.25 854.58H986.45M1006.55 703.51V849.17M1001.45 703.51H1011.65M1001.45 849.17H1011.65M1044.67 724.84V936.26M1039.57 724.84H1049.77M1039.57 936.26H1049.77M1069.87 790.31V899.32M1064.77 790.31H1074.97M1064.77 899.32H1074.97M1107.98 751.26V913.44M1102.88 751.26H1113.08M1102.88 913.44H1113.08M1133.19 726.64V937.16M1128.09 726.64H1138.29M1128.09 937.16H1138.29M1234.73 727.84V830.25M1229.63 727.84H1239.83M1229.63 830.25H1239.83M1259.64 776.79V877.1M1254.54 776.79H1264.74M1254.54 877.1H1264.74M1297.75 746.76V851.27M1292.65 746.76H1302.85M1292.65 851.27H1302.85M1322.95 696.91V873.8M1317.85 696.91H1328.05M1317.85 873.8H1328.05M1361.37 753.37V836.86M1356.27 753.37H1366.47M1356.27 836.86H1366.47M1386.27 794.51V860.28M1381.17 794.51H1391.37M1381.17 860.28H1391.37M1424.68 723.64V874.7M1419.58 723.64H1429.78M1419.58 874.7H1429.78M1449.89 786.7V873.8M1444.79 786.7H1454.99M1444.79 873.8H1454.99" stroke="#595959" stroke-width="2.1" fill="none"/>
<rect x="914.7" y="692.1" width="30.9" height="276.4" fill="#e0e0e0" fill-opacity="0.75"/>
<path d="M945.6 968.5H914.7V692.1H945.6Z" fill="none" stroke="#000" stroke-width="2.2" stroke-linejoin="round" stroke-dasharray="16.4 8.1"/>
<rect x="1166.8" y="691.1" width="30.9" height="279.9" fill="#e0e0e0" fill-opacity="0.75"/>
<path d="M1197.7 971H1166.8V691.1H1197.7Z" fill="none" stroke="#000" stroke-width="2.2" stroke-linejoin="round" stroke-dasharray="16.4 8.1"/>
<text transform="translate(937.43 875.51) rotate(-90) scale(0.9040 1)" font-size="20.07" font-weight="bold" stroke="#000" stroke-width="0.6" stroke-linejoin="round">SURGERY</text>
<text transform="translate(1190.52 917.44) rotate(-90) scale(1.0830 1)" font-size="19.19" font-weight="bold" stroke="#000" stroke-width="0.6" stroke-linejoin="round">IMMOBILIZATION</text>
<text transform="translate(860.06 1003.2) scale(1.0500 1)" font-size="18.17" fill="#676767">-1</text>
<text transform="translate(989.33 1003.2) scale(1.0500 1)" font-size="18.17" fill="#676767">1</text>
<text transform="translate(1052.79 1003.2) scale(1.0500 1)" font-size="18.17" fill="#676767">7</text>
<text transform="translate(1110.7 1003.2) scale(1.0500 1)" font-size="18.17" fill="#676767">30</text>
<text transform="translate(1231.43 1003.2) scale(1.0500 1)" font-size="18.17" fill="#676767">180</text>
<text transform="translate(1294.88 1003.2) scale(1.0500 1)" font-size="18.17" fill="#676767">240</text>
<text transform="translate(1358.19 1003.2) scale(1.0500 1)" font-size="18.17" fill="#676767">300</text>
<text transform="translate(1421.39 1003.2) scale(1.0500 1)" font-size="18.17" fill="#676767">360</text>
<text transform="translate(1058.9 1035) scale(0.9119 1)" font-size="18.68" fill="#676767">DAYS</text>
<text transform="translate(1108.87 1035) scale(0.8604 1)" font-size="18.68" fill="#676767">AFTER</text>
<text transform="translate(1166.98 1035) scale(0.8506 1)" font-size="18.68" fill="#676767">SURGERY</text>
</g>
<g>
<path d="M1577.6 691.2H2210.8M1577.6 726.08H2210.8M1577.6 760.95H2210.8M1577.6 795.83H2210.8M1577.6 830.7H2210.8M1577.6 865.58H2210.8M1577.6 900.45H2210.8M1577.6 935.33H2210.8" stroke="#d9d9d9" stroke-width="1.7" fill="none"/>
<text transform="translate(1502.08 698.1) scale(1.0125 1)" font-size="18.75" fill="#676767">320.00</text>
<text transform="translate(1501.84 732.98) scale(1.0166 1)" font-size="18.75" fill="#676767">280.00</text>
<text transform="translate(1501.84 767.85) scale(1.0166 1)" font-size="18.75" fill="#676767">240.00</text>
<text transform="translate(1501.84 802.73) scale(1.0166 1)" font-size="18.75" fill="#676767">200.00</text>
<text transform="translate(1502.57 837.6) scale(1.0038 1)" font-size="18.75" fill="#676767">160.00</text>
<text transform="translate(1502.57 872.48) scale(1.0038 1)" font-size="18.75" fill="#676767">120.00</text>
<text transform="translate(1511.76 907.35) scale(1.0314 1)" font-size="18.75" fill="#676767">80.00</text>
<text transform="translate(1512.16 942.23) scale(1.0228 1)" font-size="18.75" fill="#676767">40.00</text>
<text transform="translate(1521.73 977.1) scale(1.0534 1)" font-size="18.75" fill="#676767">0.00</text>
<rect x="1586.3" y="784.8" width="21.11" height="187.4" fill="#7030a0" stroke="#000" stroke-width="2.0" stroke-linejoin="round"/>
<rect x="1611.01" y="764.98" width="22.41" height="207.22" fill="#7030a0" fill-opacity="0.4" stroke="#000" stroke-width="2.0" stroke-linejoin="round"/>
<rect x="1712.94" y="798.01" width="21.41" height="174.19" fill="#7030a0" stroke="#000" stroke-width="2.0" stroke-linejoin="round"/>
<rect x="1737.95" y="798.01" width="22.11" height="174.19" fill="#7030a0" fill-opacity="0.4" stroke="#000" stroke-width="2.0" stroke-linejoin="round"/>
<rect x="1775.96" y="781.5" width="21.71" height="190.7" fill="#7030a0" stroke="#000" stroke-width="2.0" stroke-linejoin="round"/>
<rect x="1801.57" y="801.62" width="21.81" height="170.58" fill="#7030a0" fill-opacity="0.4" stroke="#000" stroke-width="2.0" stroke-linejoin="round"/>
<rect x="1838.98" y="765.88" width="22.01" height="206.32" fill="#7030a0" stroke="#000" stroke-width="2.0" stroke-linejoin="round"/>
<rect x="1864.89" y="787.2" width="22.11" height="185" fill="#7030a0" fill-opacity="0.4" stroke="#000" stroke-width="2.0" stroke-linejoin="round"/>
<rect x="1965.72" y="788.1" width="22.01" height="184.1" fill="#7030a0" stroke="#000" stroke-width="2.0" stroke-linejoin="round"/>
<rect x="1991.33" y="820.24" width="22.11" height="151.96" fill="#7030a0" fill-opacity="0.4" stroke="#000" stroke-width="2.0" stroke-linejoin="round"/>
<rect x="2029.04" y="790.51" width="22.31" height="181.69" fill="#7030a0" stroke="#000" stroke-width="2.0" stroke-linejoin="round"/>
<rect x="2054.65" y="803.72" width="22.41" height="168.48" fill="#7030a0" fill-opacity="0.4" stroke="#000" stroke-width="2.0" stroke-linejoin="round"/>
<rect x="2092.06" y="784.8" width="22.31" height="187.4" fill="#7030a0" stroke="#000" stroke-width="2.0" stroke-linejoin="round"/>
<rect x="2117.97" y="791.41" width="22.41" height="180.79" fill="#7030a0" fill-opacity="0.4" stroke="#000" stroke-width="2.0" stroke-linejoin="round"/>
<rect x="2155.38" y="801.62" width="22.31" height="170.58" fill="#7030a0" stroke="#000" stroke-width="2.0" stroke-linejoin="round"/>
<rect x="2180.99" y="780.3" width="21.81" height="191.9" fill="#7030a0" fill-opacity="0.4" stroke="#000" stroke-width="2.0" stroke-linejoin="round"/>
<rect x="1577.6" y="970.2" width="633.2" height="4" fill="#fff"/>
<path d="M1577.6 970.2H2210.8" stroke="#d9d9d9" stroke-width="1.8" fill="none"/>
<path d="M1597.21 731.14V838.96M1592.11 731.14H1602.31M1592.11 838.96H1602.31M1622.12 716.73V812.23M1617.02 716.73H1627.22M1617.02 812.23H1627.22M1723.85 747.96V847.97M1718.75 747.96H1728.95M1718.75 847.97H1728.95M1749.05 751.26V845.57M1743.95 751.26H1754.15M1743.95 845.57H1754.15M1787.46 729.94V833.55M1782.36 729.94H1792.56M1782.36 833.55H1792.56M1812.37 752.17V850.07M1807.27 752.17H1817.47M1807.27 850.07H1817.47M1850.48 717.93V813.43M1845.38 717.93H1855.58M1845.38 813.43H1855.58M1875.69 754.57V819.14M1870.59 754.57H1880.79M1870.59 819.14H1880.79M1977.23 750.06V825.74M1972.13 750.06H1982.33M1972.13 825.74H1982.33M2002.13 774.69V865.69M1997.03 774.69H2007.23M1997.03 865.69H2007.23M2040.24 742.56V838.06M2035.14 742.56H2045.34M2035.14 838.06H2045.34M2065.75 755.77V852.47M2060.65 755.77H2070.85M2060.65 852.47H2070.85M2103.56 742.56V826.95M2098.46 742.56H2108.66M2098.46 826.95H2108.66M2128.77 750.06V832.35M2123.67 750.06H2133.87M2123.67 832.35H2133.87M2166.58 763.58V840.46M2161.48 763.58H2171.68M2161.48 840.46H2171.68M2192.09 745.56V814.63M2186.99 745.56H2197.19M2186.99 814.63H2197.19" stroke="#595959" stroke-width="2.1" fill="none"/>
<rect x="1660.2" y="691.8" width="30.8" height="278.1" fill="#e0e0e0" fill-opacity="0.75"/>
<path d="M1691 969.9H1660.2V691.8H1691Z" fill="none" stroke="#000" stroke-width="2.2" stroke-linejoin="round" stroke-dasharray="16.4 8.1"/>
<rect x="1912.4" y="691.8" width="29.9" height="276.9" fill="#e0e0e0" fill-opacity="0.75"/>
<path d="M1942.3 968.7H1912.4V691.8H1942.3Z" fill="none" stroke="#000" stroke-width="2.2" stroke-linejoin="round" stroke-dasharray="16.4 8.1"/>
<text transform="translate(1683.53 877.02) rotate(-90) scale(0.8665 1)" font-size="20.94" font-weight="bold" stroke="#000" stroke-width="0.6" stroke-linejoin="round">SURGERY</text>
<text transform="translate(1935.41 917.43) rotate(-90) scale(1.0735 1)" font-size="19.19" font-weight="bold" stroke="#000" stroke-width="0.6" stroke-linejoin="round">IMMOBILIZATION</text>
<text transform="translate(1601.72 1003.2) scale(1.0500 1)" font-size="18.17" fill="#676767">-1</text>
<text transform="translate(1731.23 1003.2) scale(1.0500 1)" font-size="18.17" fill="#676767">1</text>
<text transform="translate(1794.81 1003.2) scale(1.0500 1)" font-size="18.17" fill="#676767">7</text>
<text transform="translate(1852.84 1003.2) scale(1.0500 1)" font-size="18.17" fill="#676767">30</text>
<text transform="translate(1973.81 1003.2) scale(1.0500 1)" font-size="18.17" fill="#676767">180</text>
<text transform="translate(2037.38 1003.2) scale(1.0500 1)" font-size="18.17" fill="#676767">240</text>
<text transform="translate(2100.81 1003.2) scale(1.0500 1)" font-size="18.17" fill="#676767">300</text>
<text transform="translate(2164.13 1003.2) scale(1.0500 1)" font-size="18.17" fill="#676767">360</text>
<text transform="translate(1801.1 1035) scale(0.9119 1)" font-size="18.68" fill="#676767">DAYS</text>
<text transform="translate(1851.07 1035) scale(0.8604 1)" font-size="18.68" fill="#676767">AFTER</text>
<text transform="translate(1909.18 1035) scale(0.8506 1)" font-size="18.68" fill="#676767">SURGERY</text>
</g>
<rect x="627" y="111.1" width="14.5" height="14.7" fill="#fff" stroke="none"/>
<rect x="627" y="111.1" width="14.5" height="14.7" fill="#ff0000" fill-opacity="1" stroke="#000" stroke-width="2" stroke-linejoin="round"/>
<text transform="translate(648.35 125.9) scale(0.7630 1)" font-size="24.71" fill="#626262">LF</text>
<rect x="685.5" y="111.1" width="14.5" height="14.7" fill="#fff" stroke="none"/>
<rect x="685.5" y="111.1" width="14.5" height="14.7" fill="#ff0000" fill-opacity="0.4" stroke="#000" stroke-width="2" stroke-linejoin="round"/>
<text transform="translate(706.9 125.9) scale(0.7386 1)" font-size="24.71" fill="#626262">RF</text>
<rect x="1358.3" y="110.9" width="14.5" height="14.7" fill="#fff" stroke="none"/>
<rect x="1358.3" y="110.9" width="14.5" height="14.7" fill="#ed7d31" fill-opacity="1" stroke="#000" stroke-width="2" stroke-linejoin="round"/>
<text transform="translate(1379.65 125.7) scale(0.7630 1)" font-size="24.71" fill="#626262">LF</text>
<rect x="1416.3" y="110.9" width="14.5" height="14.7" fill="#fff" stroke="none"/>
<rect x="1416.3" y="110.9" width="14.5" height="14.7" fill="#ed7d31" fill-opacity="0.4" stroke="#000" stroke-width="2" stroke-linejoin="round"/>
<text transform="translate(1437.7 125.7) scale(0.7386 1)" font-size="24.71" fill="#626262">RF</text>
<rect x="2090.1" y="111.2" width="14.5" height="14.7" fill="#fff" stroke="none"/>
<rect x="2090.1" y="111.2" width="14.5" height="14.7" fill="#ffc000" fill-opacity="1" stroke="#000" stroke-width="2" stroke-linejoin="round"/>
<text transform="translate(2111.45 126) scale(0.7630 1)" font-size="24.71" fill="#626262">LF</text>
<rect x="2148.1" y="111.2" width="14.5" height="14.7" fill="#fff" stroke="none"/>
<rect x="2148.1" y="111.2" width="14.5" height="14.7" fill="#ffc000" fill-opacity="0.31" stroke="#000" stroke-width="2" stroke-linejoin="round"/>
<text transform="translate(2169.5 126) scale(0.7386 1)" font-size="24.71" fill="#626262">RF</text>
<rect x="626.3" y="641.8" width="14.5" height="14.7" fill="#fff" stroke="none"/>
<rect x="626.3" y="641.8" width="14.5" height="14.7" fill="#00b050" fill-opacity="1" stroke="#000" stroke-width="2" stroke-linejoin="round"/>
<text transform="translate(647.65 656.6) scale(0.7630 1)" font-size="24.71" fill="#626262">LF</text>
<rect x="685.1" y="641.8" width="14.5" height="14.7" fill="#fff" stroke="none"/>
<rect x="685.1" y="641.8" width="14.5" height="14.7" fill="#00b050" fill-opacity="0.4" stroke="#000" stroke-width="2" stroke-linejoin="round"/>
<text transform="translate(706.5 656.6) scale(0.7386 1)" font-size="24.71" fill="#626262">RF</text>
<rect x="1358.3" y="641.8" width="14.5" height="14.7" fill="#fff" stroke="none"/>
<rect x="1358.3" y="641.8" width="14.5" height="14.7" fill="#0000ff" fill-opacity="1" stroke="#000" stroke-width="2" stroke-linejoin="round"/>
<text transform="translate(1379.65 656.6) scale(0.7630 1)" font-size="24.71" fill="#626262">LF</text>
<rect x="1416.4" y="641.8" width="14.5" height="14.7" fill="#fff" stroke="none"/>
<rect x="1416.4" y="641.8" width="14.5" height="14.7" fill="#0000ff" fill-opacity="0.4" stroke="#000" stroke-width="2" stroke-linejoin="round"/>
<text transform="translate(1437.8 656.6) scale(0.7386 1)" font-size="24.71" fill="#626262">RF</text>
<rect x="2143.3" y="641.8" width="14.5" height="14.7" fill="#fff" stroke="none"/>
<rect x="2143.3" y="641.8" width="14.5" height="14.7" fill="#7030a0" fill-opacity="1" stroke="#000" stroke-width="2" stroke-linejoin="round"/>
<text transform="translate(2164.65 656.6) scale(0.7630 1)" font-size="24.71" fill="#626262">LF</text>
<rect x="2143.3" y="679.9" width="14.5" height="14.7" fill="#fff" stroke="none"/>
<rect x="2143.3" y="679.9" width="14.5" height="14.7" fill="#7030a0" fill-opacity="0.4" stroke="#000" stroke-width="2" stroke-linejoin="round"/>
<text transform="translate(2164.7 694.7) scale(0.7386 1)" font-size="24.71" fill="#626262">RF</text>
</svg>
</body></html>
